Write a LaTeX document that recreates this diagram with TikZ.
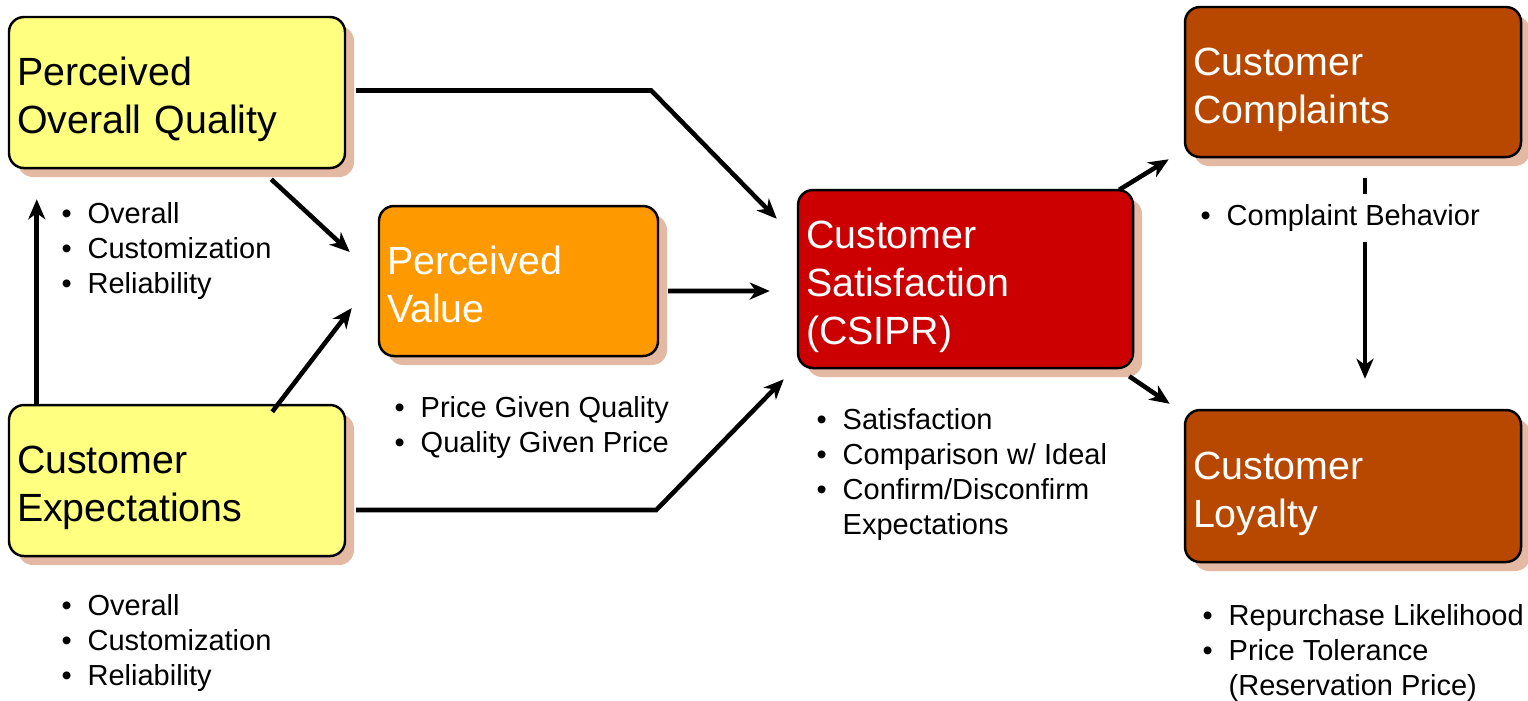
\documentclass[tikz,border=0pt]{standalone}
\usepackage{fontspec}
\setmainfont{Liberation Sans}
\usetikzlibrary{arrows.meta, shadows}
\definecolor{qualcol}{RGB}{255,255,128}
\definecolor{valcol}{RGB}{255,153,0}
\definecolor{satcol}{RGB}{204,0,0}
\definecolor{loycol}{RGB}{184,72,0}
\definecolor{shadecol}{RGB}{227,185,163}
\newcommand{\itm}{\makebox[0.26cm][l]{\textbullet}}

\begin{document}
\begin{tikzpicture}[
  construct/.style={rectangle, rounded corners=0.15cm, draw=black, line width=0.7pt,
                    text width=#1, inner xsep=0.08cm, align=left, minimum height=1.5cm,
                    font=\fontsize{11.2}{13.7}\selectfont,
                    execute at begin node={\rule{0pt}{12.25pt}},
                    execute at end node={\rule[-2.4pt]{0pt}{2.4pt}},
                    drop shadow={shadow xshift=0.09cm, shadow yshift=-0.09cm,
                                 fill=shadecol, opacity=1}},
  construct/.default=3.2cm,
  notes/.style={anchor=base west, inner sep=0pt, font=\fontsize{8.25}{10}\selectfont},
  arrow/.style={-{Stealth[length=0.2cm, width=0.17cm, inset=0.06cm]}, line width=1.3pt}
]
\useasboundingbox (0,0) rectangle (15.28,-7.00);

% Model constructs
\node[construct, fill=qualcol, minimum height=1.51cm]
      (pq) at (1.77,-0.925) {Perceived\\Overall Quality};

\node[construct=2.63cm, fill=valcol, text=white]
      (pv) at (5.185,-2.81) {Perceived\\Value};

\node[construct, fill=qualcol, minimum height=1.51cm]
      (ce) at (1.77,-4.805) {Customer\\Expectations};

\node[construct=3.19cm, fill=satcol, text=white, minimum height=1.78cm]
      (cs) at (9.655,-2.79) {Customer\\Satisfaction\\(CSIPR)};

\node[construct, fill=loycol, text=white]
      (cc) at (13.53,-0.82) {Customer\\Complaints};

\node[construct, fill=loycol, text=white, minimum height=1.52cm]
      (cl) at (13.53,-4.86) {Customer\\Loyalty};

% Paths between constructs
\draw[arrow] ([shift={(0.10,0.02)}]pq.east) -- ++(2.95,0)
             -- ([shift={(-0.20,-0.30)}]cs.north west);
\draw[arrow] ([shift={(-0.75,-0.10)}]pq.south east) -- ([shift={(-0.28,0.29)}]pv.west);
\draw[arrow] ([shift={(-0.74,-0.08)}]ce.north east) -- ([shift={(-0.26,-0.27)}]pv.west);
\draw[arrow] ([xshift=0.29cm]ce.north west) -- ([shift={(0.29,-0.30)}]pq.south west);
\draw[arrow] ([shift={(0.09,-0.10)}]pv.east) -- ([shift={(-0.27,-0.12)}]cs.west);
\draw[arrow] ([shift={(0.10,-0.295)}]ce.east) -- ++(3.00,0)
             -- ([shift={(-0.13,-0.10)}]cs.south west);
\draw[arrow] ([shift={(-0.15,-0.01)}]cs.north east) -- ([shift={(-0.15,-0.01)}]cc.south west);
\draw[arrow] ([shift={(-0.05,-0.07)}]cs.south east) -- ([shift={(-0.14,0.05)}]cl.north west);
\draw[arrow] ([shift={(0.12,-0.20)}]cc.south) -- ([shift={(0.12,0.30)}]cl.north);

% Measured items
\node[notes] (pqnotes) at (0.61,-2.23)
      {\begin{tabular}[t]{@{}l@{}}\itm Overall\\ \itm Customization\\ \itm Reliability\end{tabular}};
\node[notes] (cenotes) at (0.61,-6.15)
      {\begin{tabular}[t]{@{}l@{}}\itm Overall\\ \itm Customization\\ \itm Reliability\end{tabular}};
\node[notes] (pvnotes) at (3.94,-4.17)
      {\begin{tabular}[t]{@{}l@{}}\itm Price Given Quality\\ \itm Quality Given Price\end{tabular}};
\node[notes] (csnotes) at (8.16,-4.29)
      {\begin{tabular}[t]{@{}l@{}}\itm Satisfaction\\ \itm Comparison w/ Ideal\\
       \itm Confirm/Disconfirm\\ \hspace{0.26cm}Expectations\end{tabular}};
\node[notes, fill=white, inner ysep=0.065cm] (ccnotes) at (12.00,-2.25)
      {\begin{tabular}[t]{@{}l@{}}\itm Complaint Behavior\end{tabular}};
\node[notes] (clnotes) at (12.02,-6.25)
      {\begin{tabular}[t]{@{}l@{}}\itm Repurchase Likelihood\\ \itm Price Tolerance\\
       \hspace{0.26cm}(Reservation Price)\end{tabular}};

\end{tikzpicture}
\end{document}
